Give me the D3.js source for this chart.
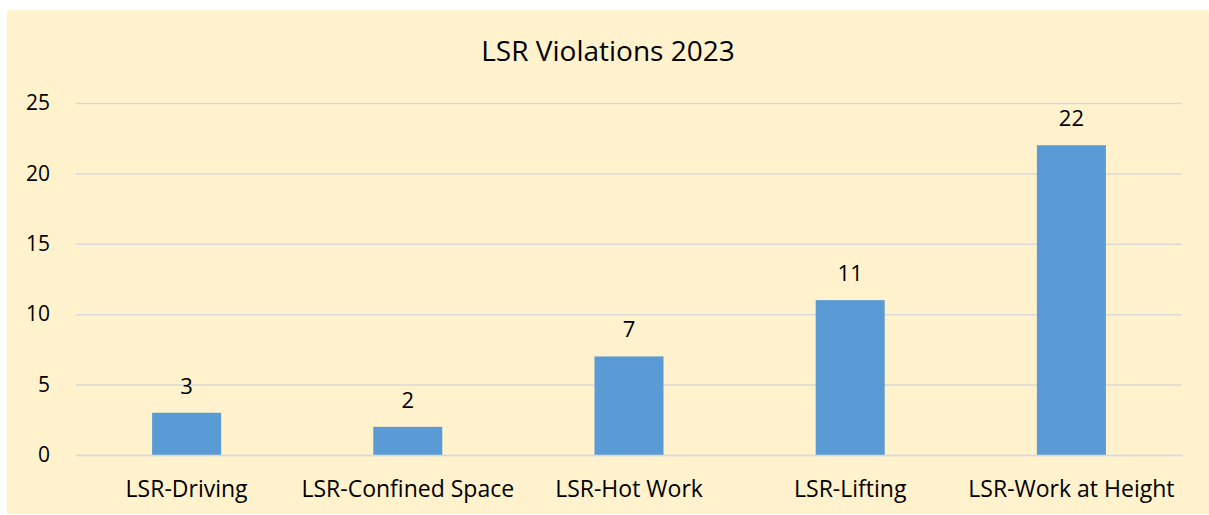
<!DOCTYPE html>
<html>
<head>
<meta charset="utf-8">
<script src="https://cdn.jsdelivr.net/npm/d3@7"></script>
<style>
  html, body { margin: 0; padding: 0; background: #ffffff; }
  svg { display: block; font-family: "Open Sans", Lato, sans-serif; font-variant-ligatures: none; }
</style>
</head>
<body>
<svg id="chart" width="1209" height="515"></svg>
<script>
// Violation counts per Life Saving Rule category
const categories = ["LSR-Driving", "LSR-Confined Space", "LSR-Hot Work", "LSR-Lifting", "LSR-Work at Height"];
const violations = [3, 2, 7, 11, 22];
const yTicks = [0, 5, 10, 15, 20, 25];
const title = "LSR Violations 2023";

const fontFamily = "'Open Sans', Lato, sans-serif";

const svg = d3.select("#chart");

// chart area background
svg.append("rect")
  .attr("x", 7).attr("y", 10)
  .attr("width", 1202).attr("height", 504)
  .attr("fill", "#FFF2CC");

const plot = { left: 76, right: 1182, top: 103, bottom: 455 };

const x = d3.scaleBand()
  .domain(categories)
  .range([plot.left, plot.right])
  .paddingInner(0.688)
  .paddingOuter(0.344);

const y = d3.scaleLinear()
  .domain([0, 25])
  .range([plot.bottom, plot.top]);

// gridlines
const yAxis = d3.axisLeft(y).tickValues(yTicks).tickSize(-(plot.right - plot.left)).tickPadding(26);
const gy = svg.append("g").attr("transform", `translate(${plot.left},0)`).call(yAxis);
gy.select(".domain").remove();
gy.selectAll(".tick line").attr("stroke", "#D9D9D9").attr("stroke-width", 1.5);
gy.selectAll(".tick text")
  .attr("fill", "#000").attr("font-size", 21).attr("font-family", fontFamily);

// bars
svg.append("g").selectAll("rect")
  .data(violations)
  .join("rect")
  .attr("x", (d, i) => x(categories[i]))
  .attr("y", d => y(d))
  .attr("width", x.bandwidth())
  .attr("height", d => y(0) - y(d))
  .attr("fill", "#5B9BD5");

// value labels
svg.append("g").selectAll("text")
  .data(violations)
  .join("text")
  .attr("x", (d, i) => x(categories[i]) + x.bandwidth() / 2)
  .attr("y", d => y(d) - 19)
  .attr("text-anchor", "middle")
  .attr("font-size", 22)
  .attr("font-family", fontFamily)
  .attr("fill", "#000")
  .text(d => d);

// category axis
const xAxis = d3.axisBottom(x).tickSize(0).tickPadding(26);
const gx = svg.append("g").attr("transform", `translate(0,${plot.bottom})`).call(xAxis);
gx.select(".domain").attr("stroke", "#D9D9D9").attr("stroke-width", 1.5);
gx.selectAll(".tick text")
  .attr("fill", "#000").attr("font-size", 23).attr("font-family", fontFamily);

// title
svg.append("text")
  .attr("x", 608).attr("y", 61)
  .attr("text-anchor", "middle")
  .attr("font-size", 28)
  .attr("font-family", fontFamily)
  .attr("fill", "#000")
  .text(title);
</script>
</body>
</html>
